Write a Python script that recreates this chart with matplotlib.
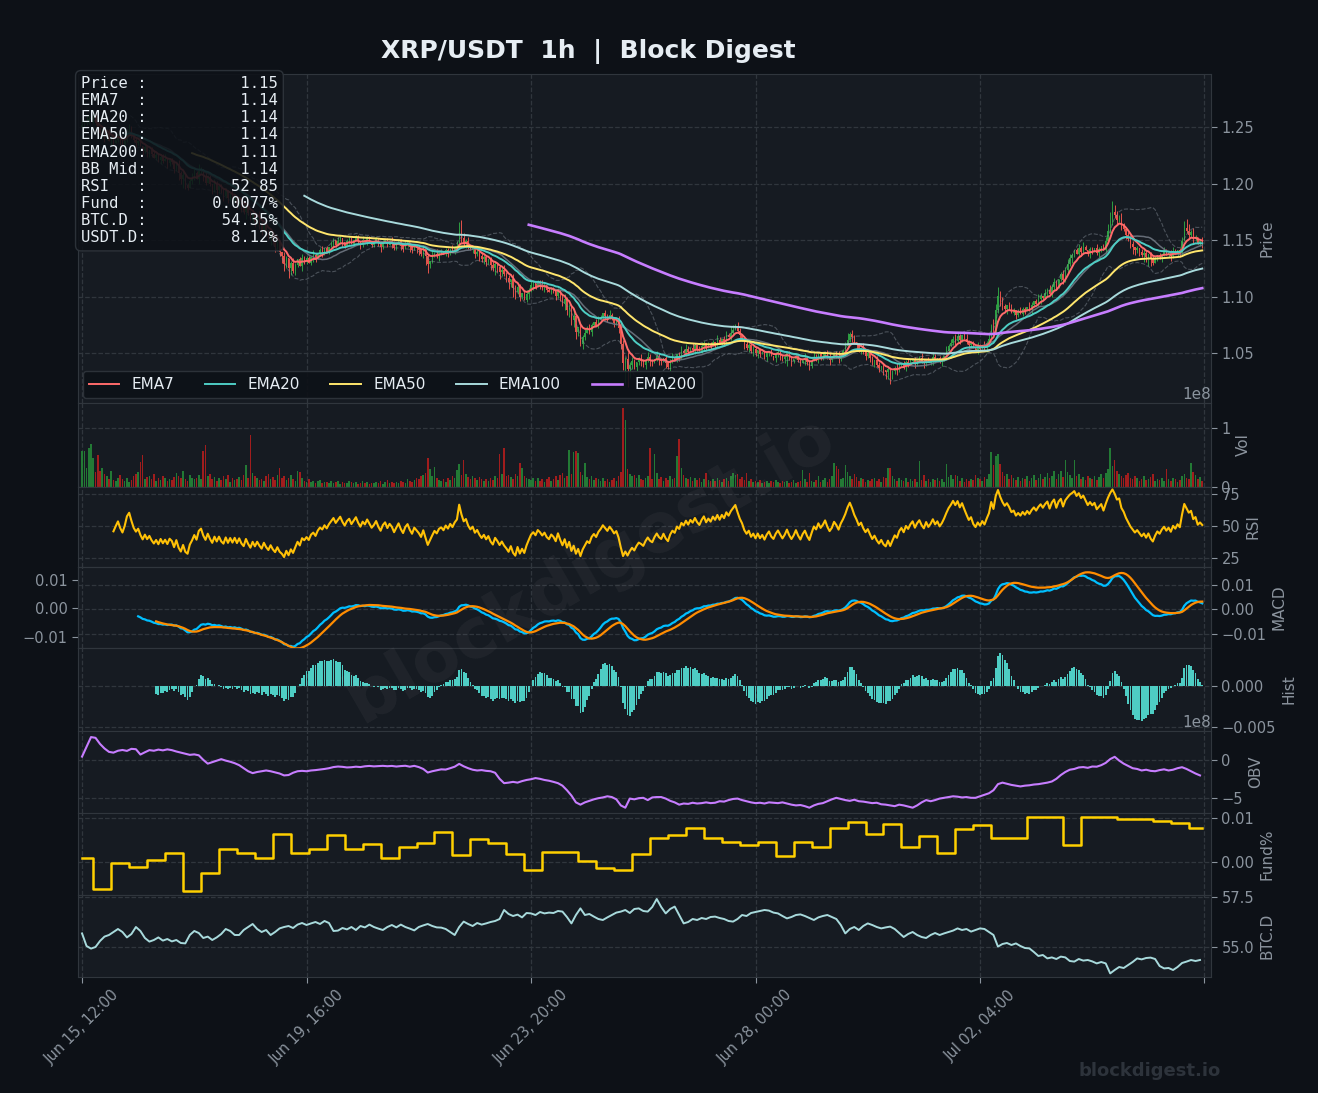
import matplotlib
matplotlib.use("Agg")
import matplotlib.pyplot as plt
from matplotlib.ticker import MultipleLocator, FuncFormatter
import numpy as np
import pandas as pd

# ---------------- data ----------------
start_time = "2025-06-15 12:00"
first_open = 1.250

# hourly closes, in 0.001 USDT
close_txt = """
1252 1254 1255 1257 1258 1260 1254 1249 1245 1246
1241 1244 1238 1240 1236 1239 1242 1238 1235 1239
1246 1249 1244 1239 1236 1238 1233 1229 1232 1228
1230 1226 1223 1225 1221 1224 1220 1222 1218 1221
1219 1213 1217 1209 1204 1208 1199 1196 1202 1205
1209 1204 1211 1213 1206 1201 1206 1200 1195 1200
1194 1198 1192 1189 1194 1187 1191 1185 1189 1182
1186 1179 1175 1181 1174 1168 1173 1166 1170 1164
1159 1164 1157 1152 1156 1149 1144 1148 1140 1136
1129 1134 1125 1130 1123 1128 1133 1127 1134 1131
1134 1130 1135 1137 1133 1138 1141 1139 1143 1140
1144 1147 1150 1146 1149 1152 1148 1145 1149 1151
1147 1150 1153 1149 1146 1150 1148 1152 1149 1146
1148 1151 1147 1144 1148 1150 1146 1149 1147 1143
1146 1149 1145 1142 1146 1148 1144 1141 1145 1143
1141 1138 1142 1136 1129 1132 1135 1138 1136 1139
1140 1138 1141 1139 1142 1140 1143 1145 1158 1152
1147 1149 1144 1141 1143 1138 1140 1136 1133 1135
1131 1133 1128 1125 1129 1126 1122 1124 1120 1117
1113 1116 1108 1104 1109 1100 1103 1097 1102 1106
1110 1112 1109 1113 1111 1108 1110 1106 1104 1107
1105 1101 1106 1100 1094 1098 1088 1092 1079 1083
1069 1073 1058 1064 1068 1072 1069 1075 1078 1074
1079 1082 1086 1083 1080 1084 1081 1077 1079 1072
1058 1041 1045 1036 1040 1043 1038 1042 1045 1043
1040 1044 1047 1043 1041 1045 1048 1044 1042 1046
1041 1038 1043 1046 1044 1049 1047 1052 1050 1054
1051 1055 1053 1057 1054 1052 1056 1059 1055 1058
1056 1060 1058 1062 1059 1063 1061 1066 1064 1068
1071 1074 1070 1066 1063 1058 1055 1057 1052 1054
1050 1053 1049 1051 1047 1050 1052 1048 1046 1049
1051 1048 1045 1047 1050 1046 1043 1045 1048 1044
1041 1044 1046 1042 1039 1043 1047 1045 1049 1046
1048 1051 1047 1044 1046 1050 1048 1045 1049 1052
1056 1062 1067 1064 1060 1057 1053 1055 1051 1048
1050 1046 1042 1044 1040 1037 1039 1035 1033 1036
1031 1034 1037 1035 1039 1041 1038 1042 1040 1043
1045 1041 1044 1046 1043 1041 1045 1042 1044 1047
1044 1046 1043 1045 1048 1052 1056 1059 1063 1061
1065 1062 1066 1063 1060 1057 1059 1055 1053 1056
1054 1057 1055 1059 1063 1074 1070 1088 1101 1096
1092 1089 1093 1090 1086 1088 1084 1087 1085 1089
1087 1091 1089 1093 1096 1094 1098 1101 1099 1103
1106 1102 1109 1113 1108 1116 1120 1115 1124 1129
1134 1137 1141 1138 1143 1140 1144 1141 1138 1142
1140 1143 1139 1142 1145 1141 1149 1158 1167 1175
1172 1168 1170 1163 1160 1155 1151 1147 1144 1141
1143 1140 1137 1139 1135 1138 1133 1130 1134 1137
1135 1138 1140 1137 1139 1136 1140 1138 1141 1139
1149 1161 1158 1155 1157 1151 1153 1147 1149 1147
"""

# wick lengths above / below the body, in 0.002 USDT
up_wick_txt = """
2132112102 1021201120 1210102011 0121011201 1102120112
2131021102 1012101210 0121012103 1021101210 2101210121
1102101201 0110210011 1011020110 0101101021 1010210101
1020103120 1011021245 2121011021 1012101121 1021110121
2101121011 1010121102 1021212101 2101121012 3213121012
1021102110 1012101212 1021012101 1102101213 2121012101
1010110101 1101011010 1021012101 1012101201 2312101021
1010210101 1012101121 0101210102 1011021212 2101210102
1021213342 2101210121 1021012102 1212101212 2101212101
1021012345 3212101210 1012101210 1021012101 2343121012
"""
down_wick_txt = """
1211021012 2102101211 1021210212 2101121021 1213242101
1021210121 2102121012 1213101212 2121312123 3243121021
1012101210 1021012101 0101210101 1012101021 1021012102
2124421012 1012101012 1210121212 2121323212 3243121012
1210212101 1212132323 3212101210 1012101212 2398421212
1212101210 2121012101 1012101210 1021012101 1012121212
1210121012 1212412101 1021210121 1012101210 1012121212
1212121233 4212101210 1210121012 1012101012 1210121012
1012101212 2121012101 1012101210 1012101212 1210121012
1012101012 1212121232 1213243101 1210121012 1012121012
"""

# hourly volume, in 1e6
volume_txt = """
61 62 33 66 74 49 25 55 27 32
22 18 14 28 12 10 16 20 13 11
15 9 12 18 22 26 43 55 14 17
19 14 22 11 16 12 18 15 10 13
12 17 23 19 16 28 14 11 20 15
13 16 20 14 61 72 18 22 13 17
11 15 12 18 14 20 9 16 12 14
17 12 21 37 15 89 24 19 16 12
14 10 18 22 13 17 12 20 32 15
18 12 15 21 14 10 27 25 16 11
9 13 8 11 7 10 12 6 9 8
7 10 6 8 11 5 9 7 6 10
8 6 9 5 7 11 6 8 5 7
6 9 7 10 5 8 12 6 9 7
8 6 11 9 7 13 10 8 12 16
14 18 21 24 50 30 18 34 15 12
11 14 9 16 12 18 15 29 40 20
46 22 17 13 19 15 12 17 14 10
13 11 16 12 19 15 56 22 66 18
20 17 14 22 18 41 32 19 15 13
12 15 11 16 10 14 9 13 17 11
14 18 12 20 24 15 19 63 22 60
62 58 26 20 41 17 14 19 12 15
13 10 16 11 14 9 12 15 10 18
25 135 114 30 22 19 21 16 20 14
12 15 18 66 14 56 24 13 17 11
15 12 18 14 16 53 82 33 20 15
13 17 11 15 12 16 9 14 23 12
11 14 10 16 12 9 13 15 11 18
23 20 22 14 17 12 24 10 13 9
10 8 12 7 9 11 6 10 8 12
9 7 11 8 10 6 9 12 7 8
11 29 13 9 24 10 8 12 19 9
12 15 9 14 18 41 36 30 13 16
38 25 18 14 22 17 11 15 13 9
12 10 14 16 11 13 9 17 15 33
33 18 14 11 16 12 10 15 9 13
11 14 9 45 12 20 10 13 8 14
12 15 11 13 9 40 17 21 14 20
18 11 15 9 13 10 14 12 20 16
14 11 17 13 22 60 38 52 57 40
26 18 22 14 20 15 12 17 11 16
13 18 11 15 20 12 16 22 14 17
24 15 19 27 13 22 28 17 46 25
20 15 46 18 22 14 17 12 19 15
14 19 12 17 22 15 24 30 67 35
46 28 22 19 15 20 24 16 13 18
15 11 14 19 12 13 17 22 10 14
12 15 10 31 14 11 16 13 9 12
18 22 15 13 41 26 20 14 17 11
"""

# on-balance volume every 2 hours, in 1e6
obv_txt = """
43 170 300 290 210 150 105 95 120 130
118 145 140 70 100 128 120 135 125 138
128 110 95 80 66 72 60 0 -50 -30
-10 9 -10 -25 -44 -70 -110 -150 -175 -160
-150 -140 -150 -165 -180 -205 -200 -170 -150 -145
-150 -140 -135 -128 -120 -110 -95 -88 -92 -100
-97 -90 -95 -85 -80 -86 -82 -79 -84 -80
-88 -82 -78 -90 -79 -95 -120 -167 -150 -138
-125 -128 -110 -90 -53 -85 -110 -130 -140 -135
-145 -150 -170 -250 -307 -300 -290 -300 -280 -265
-255 -240 -250 -265 -275 -290 -307 -340 -400 -470
-560 -590 -560 -540 -520 -505 -495 -480 -490 -520
-600 -630 -510 -520 -505 -500 -530 -495 -490 -490
-510 -540 -560 -590 -575 -580 -565 -575 -570 -560
-570 -565 -545 -550 -530 -515 -510 -530 -545 -560
-570 -565 -575 -560 -565 -570 -560 -575 -590 -600
-595 -610 -630 -600 -580 -570 -545 -520 -500 -515
-530 -540 -525 -545 -550 -560 -570 -565 -585 -590
-600 -610 -590 -600 -615 -630 -600 -560 -530 -545
-530 -510 -500 -490 -480 -485 -495 -490 -500 -500
-480 -460 -440 -400 -320 -300 -315 -330 -340 -350
-340 -335 -325 -320 -310 -300 -285 -250 -200 -160
-130 -120 -100 -95 -105 -88 -90 -70 -40 10
40 -10 -50 -80 -110 -120 -140 -130 -145 -150
-135 -125 -140 -130 -110 -97 -120 -150 -180 -205
"""

# BTC dominance every 2 hours, in 0.01 %
btcd_txt = """
5568 5505 5492 5500 5530 5552 5560 5575 5590 5575
5548 5565 5600 5580 5545 5527 5535 5548 5532 5540
5528 5535 5520 5518 5560 5580 5570 5545 5552 5535
5548 5565 5590 5580 5560 5560 5585 5600 5615 5590
5575 5585 5560 5575 5593 5600 5605 5595 5612 5620
5610 5618 5625 5615 5630 5620 5580 5582 5595 5588
5600 5585 5605 5598 5612 5600 5592 5585 5600 5610
5598 5612 5600 5592 5583 5600 5608 5615 5605 5598
5597 5590 5575 5560 5600 5627 5615 5605 5620 5612
5618 5625 5630 5640 5685 5665 5655 5662 5648 5670
5668 5660 5675 5668 5672 5670 5680 5677 5650 5618
5660 5693 5660 5665 5652 5640 5635 5648 5660 5672
5677 5685 5670 5690 5693 5680 5677 5700 5740 5700
5668 5690 5702 5660 5618 5625 5640 5635 5645 5640
5650 5652 5645 5640 5630 5627 5640 5660 5655 5670
5675 5680 5685 5682 5672 5668 5655 5643 5650 5660
5663 5655 5645 5635 5648 5655 5660 5650 5640 5610
5568 5590 5600 5585 5605 5618 5610 5600 5593 5598
5602 5590 5570 5550 5565 5575 5560 5550 5545 5560
5570 5560 5568 5575 5582 5593 5585 5590 5577 5585
5593 5590 5575 5560 5502 5515 5520 5510 5518 5505
5495 5493 5475 5455 5460 5443 5448 5440 5452 5448
5430 5427 5440 5432 5435 5428 5418 5425 5418 5368
5385 5400 5395 5410 5425 5443 5438 5445 5447 5440
5405 5393 5395 5385 5400 5420 5427 5435 5430 5435
"""

# funding rate (%), changes at these hour indexes
fund_hours = [0, 5, 13, 21, 29, 37, 45, 53, 61, 69, 77, 85, 93, 101, 109, 117,
              125, 133, 141, 149, 157, 165, 173, 181, 189, 197, 205, 213, 221,
              229, 237, 245, 253, 261, 269, 277, 285, 293, 301, 309, 317, 325,
              333, 341, 349, 357, 365, 373, 381, 389, 397, 405, 413, 421, 429,
              437, 445, 453, 461, 469, 477, 485, 493]
fund_values = [0.0008, -0.0061, -0.0003, -0.0011, 0.00045, 0.0021, -0.0067,
               -0.0026, 0.0029, 0.0020, 0.0010, 0.0063, 0.0020, 0.0030, 0.0061,
               0.0029, 0.0041, 0.0010, 0.0033, 0.0044, 0.0069, 0.0016, 0.0051,
               0.0042, 0.0019, -0.0018, 0.0023, 0.0023, 0.0001, -0.0013, -0.0018,
               0.0018, 0.0055, 0.0061, 0.0077, 0.0054, 0.0046, 0.0039, 0.0045,
               0.0014, 0.0046, 0.0033, 0.0077, 0.0090, 0.0064, 0.0086, 0.0034,
               0.0058, 0.0020, 0.0074, 0.0083, 0.0055, 0.0055, 0.0103, 0.0103,
               0.0039, 0.0103, 0.0103, 0.0098, 0.0098, 0.0092, 0.0088, 0.0077]

info_labels = ["Price", "EMA7", "EMA20", "EMA50", "EMA200", "BB Mid",
               "RSI", "Fund", "BTC.D", "USDT.D"]
info_values = ["1.15", "1.14", "1.14", "1.14", "1.11", "1.14",
               "52.85", "0.0077%", "54.35%", "8.12%"]

ema_spans = [7, 20, 50, 100, 200]
ema_colors = ["#ff6b6b", "#4ecdc4", "#ffe66d", "#a8dadc", "#c77dff"]

# ---------------- parse ----------------
close = np.array(close_txt.split(), dtype=float) / 1000
up_w = np.array(list("".join(up_wick_txt.split())), dtype=float) * 0.002
dn_w = np.array(list("".join(down_wick_txt.split())), dtype=float) * 0.002
volume = np.array(volume_txt.split(), dtype=float) * 1e6
obv = np.array(obv_txt.split(), dtype=float) * 1e6
btcd = np.array(btcd_txt.split(), dtype=float) / 100
n = len(close)
assert n == 500 and len(up_w) == n and len(dn_w) == n and len(volume) == n
assert len(obv) == 250 and len(btcd) == 250

open_ = np.r_[first_open, close[:-1]]
high = np.maximum(open_, close) + up_w
low = np.minimum(open_, close) - dn_w
x = np.arange(n)
x2 = np.arange(len(obv)) * 2
dates = pd.date_range(start_time, periods=n, freq="h")

s = pd.Series(close)
emas = [s.ewm(span=k, adjust=False, min_periods=k).mean() for k in ema_spans]
bb_mid = s.rolling(20).mean()
bb_std = s.rolling(20).std(ddof=0)
delta = s.diff()
gain = delta.clip(lower=0).ewm(alpha=1 / 14, adjust=False, min_periods=14).mean()
loss = (-delta.clip(upper=0)).ewm(alpha=1 / 14, adjust=False, min_periods=14).mean()
rsi = 100 - 100 / (1 + gain / loss)
ema12 = s.ewm(span=12, adjust=False, min_periods=12).mean()
ema26 = s.ewm(span=26, adjust=False, min_periods=26).mean()
macd = ema12 - ema26
signal = macd.ewm(span=9, adjust=False, min_periods=9).mean()
hist = macd - signal

# ---------------- style ----------------
BG = "#0d1117"
PANEL = "#161b22"
EDGE = "#30363d"
TXT = "#8b949e"
UP, DOWN = "#2ea043", "#e5534b"
VUP, VDOWN = "#237a35", "#a11d1d"

W, H = 1318, 1093
fig = plt.figure(figsize=(W / 100, H / 100), dpi=100, facecolor=BG)


def rect(top, bot):
    return [78 / W, 1 - bot / H, (1211 - 78) / W, (bot - top) / H]


def style_y(ax):
    ax.tick_params(axis="y", colors=TXT, labelsize=10.5, length=4)
    ax.yaxis.get_offset_text().set_color(TXT)
    ax.yaxis.get_offset_text().set_fontsize(11)


panels = [(74, 403), (403, 487), (487, 567), (567, 648),
          (648, 731), (731, 813), (813, 895), (895, 977)]
labels = ["Price", "Vol", "RSI", "MACD", "Hist", "OBV", "Fund%", "BTC.D"]
axes = []
for (t, b), lab in zip(panels, labels):
    ax = fig.add_axes(rect(t, b), sharex=axes[0] if axes else None)
    ax.set_facecolor(PANEL)
    for sp in ax.spines.values():
        sp.set_color(EDGE)
    ax.grid(True, color=EDGE, linestyle="--", linewidth=0.9)
    ax.set_axisbelow(True)
    ax.set_ylabel(lab, color=TXT, fontsize=11)
    ax.tick_params(axis="x", colors=TXT, labelbottom=False, length=0)
    axes.append(ax)

ax_p, ax_v, ax_r, ax_m, ax_h, ax_o, ax_f, ax_b = axes

# price
up = close >= open_
cols = np.where(up, UP, DOWN)
ax_p.vlines(x, low, high, colors=cols, linewidth=0.7, zorder=2)
body = np.maximum(np.abs(close - open_), 0.0004)
ax_p.bar(x, body, bottom=np.minimum(open_, close), width=0.6, color=cols,
         linewidth=0, zorder=2)
ax_p.plot(x, bb_mid + 2 * bb_std, color=TXT, lw=0.8, ls="--", alpha=0.45, zorder=3)
ax_p.plot(x, bb_mid - 2 * bb_std, color=TXT, lw=0.8, ls="--", alpha=0.45, zorder=3)
ax_p.plot(x, bb_mid, color="#6e7681", lw=1.1, alpha=0.9, zorder=3)
for k, e, c in zip(ema_spans, emas, ema_colors):
    ax_p.plot(x, e, color=c, lw=1.9 if k == 200 else 1.4, label=f"EMA{k}", zorder=4)
ax_p.set_ylim(1.006, 1.297)
ax_p.yaxis.set_major_locator(MultipleLocator(0.05))
ax_p.legend(loc="lower left", ncol=5, fontsize=11, facecolor=BG,
            edgecolor=EDGE, labelcolor="#e6edf3", framealpha=0.9,
            borderaxespad=0.3)

# volume
ax_v.bar(x, volume, width=0.7, color=np.where(up, VUP, VDOWN), linewidth=0)
ax_v.set_ylim(0, 1.43e8)
ax_v.yaxis.set_major_locator(MultipleLocator(1e8))

# rsi
ax_r.plot(x, rsi, color="#ffc107", lw=1.5)
ax_r.set_ylim(18, 80.5)
ax_r.yaxis.set_major_locator(MultipleLocator(25))

# macd line on the panel axis (right), signal on a secondary axis (left)
ax_m.plot(x, macd, color="#00bfff", lw=1.6)
ax_s = ax_m.twinx()
ax_s.plot(x, signal, color="#ff8c00", lw=1.6)
ax_m.set_ylim(-0.0157, 0.0173)
ax_s.set_ylim(-0.0139, 0.0146)
for a in (ax_m, ax_s):
    a.yaxis.set_major_locator(MultipleLocator(0.01))
    a.yaxis.set_major_formatter(FuncFormatter(lambda v, p: f"{v:.2f}".replace("-", "\u2212")))
    for sp in a.spines.values():
        sp.set_color(EDGE)
ax_s.yaxis.tick_left()
ax_m.yaxis.tick_right()
style_y(ax_s)

# histogram
ax_h.bar(x, hist, width=0.8, color="#4ecdc4", linewidth=0)
ax_h.set_ylim(-0.0055, 0.0046)
ax_h.yaxis.set_major_locator(MultipleLocator(0.005))

# obv
ax_o.plot(x2, obv, color="#c77dff", lw=1.5)
ax_o.set_ylim(-7.0e8, 3.8e8)
ax_o.yaxis.set_major_locator(MultipleLocator(5e8))

# funding
ax_f.step(np.r_[fund_hours, n - 1], np.r_[fund_values, fund_values[-1]],
          where="post", color="#ffd000", lw=1.8)
ax_f.set_ylim(-0.0075, 0.0111)
ax_f.yaxis.set_major_locator(MultipleLocator(0.01))

# btc dominance
ax_b.plot(x2, btcd, color="#a8dadc", lw=1.4)
ax_b.set_ylim(53.5, 57.6)
ax_b.yaxis.set_major_locator(MultipleLocator(2.5))

for ax in axes:
    ax.yaxis.tick_right()
    ax.yaxis.set_label_position("right")
    style_y(ax)

# shared time axis
ax_b.set_xlim(-1.8, 502.9)
ax_b.set_xticks(range(0, n + 1, 100))
ax_b.xaxis.set_major_formatter(FuncFormatter(
    lambda v, p: dates[int(v)].strftime("%b %d, %H:%M") if 0 <= int(v) < n else ""))
ax_b.tick_params(axis="x", labelbottom=True, length=4, labelrotation=45,
                 labelsize=10.5)
for lab in ax_b.get_xticklabels():
    lab.set_ha("center")

# texts
fig.text(588 / W, 1 - 52 / H, "XRP/USDT  1h  |  Block Digest", ha="center",
         va="center", fontsize=18, fontweight="bold", color="#e6edf3")
info = "\n".join(f"{a:<6}:{b:>14}" for a, b in zip(info_labels, info_values))
fig.text(81 / W, 1 - 76 / H, info, ha="left", va="top", family="DejaVu Sans Mono",
         fontsize=11.2, color="#e6edf3", linespacing=1.18, zorder=10,
         bbox=dict(boxstyle="round,pad=0.35", facecolor=BG, alpha=0.88,
                   edgecolor=EDGE))
fig.text(0.448, 0.48, "blockdigest.io", rotation=30, fontsize=50,
         fontweight="bold", color="white", alpha=0.045, ha="center",
         va="center", zorder=20)
fig.text(1150 / W, 1 - 1071 / H, "blockdigest.io", ha="center", va="center",
         fontsize=13, fontweight="bold", color="#2d333b")

fig.savefig("out.png", dpi=100, facecolor=BG)
